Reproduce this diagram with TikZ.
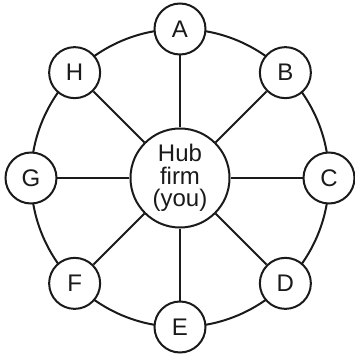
\documentclass[tikz,border=0pt]{standalone}
\usepackage{fontspec}
\setmainfont{Liberation Sans}
\usepackage{tikz}
\usetikzlibrary{positioning}
\definecolor{ink}{HTML}{1A1A1A}
\newcommand{\lbfont}{\fontsize{24}{22.5}\selectfont}

\begin{document}
\begin{tikzpicture}[x=1pt,y=1pt,
    firm/.style={draw=ink,line width=2pt,fill=white,shape=circle,minimum size=51pt,
                 inner sep=0pt,text=ink,font=\lbfont},
    hubfirm/.style={firm,minimum size=99pt,align=center},
    spoke/.style={line width=2pt,draw=ink},
    ring/.style={line width=2pt,draw=ink}]

\useasboundingbox (-180,178) rectangle (175,-181);

% ======================= outer ring ===================================================
\draw[ring] (0,0) circle (149);

% ======================= hub ==========================================================
\node[hubfirm] (hub) at (0,0) {Hub\\firm\\(you)};

% ======================= partner firms ================================================
\node[firm] (a) at (90:149)  {A};
\node[firm] (b) at (45:149)  {B};
\node[firm] (c) at (0:149)   {C};
\node[firm] (d) at (-45:149) {D};
\node[firm] (e) at (-90:149) {E};
\node[firm] (f) at (225:149) {F};
\node[firm] (g) at (180:149) {G};
\node[firm] (h) at (135:149) {H};

% ======================= spokes =======================================================
\draw[spoke] (hub) -- (a);
\draw[spoke] (hub) -- (b);
\draw[spoke] (hub) -- (c);
\draw[spoke] (hub) -- (d);
\draw[spoke] (hub) -- (e);
\draw[spoke] (hub) -- (f);
\draw[spoke] (hub) -- (g);
\draw[spoke] (hub) -- (h);

\end{tikzpicture}
\end{document}
